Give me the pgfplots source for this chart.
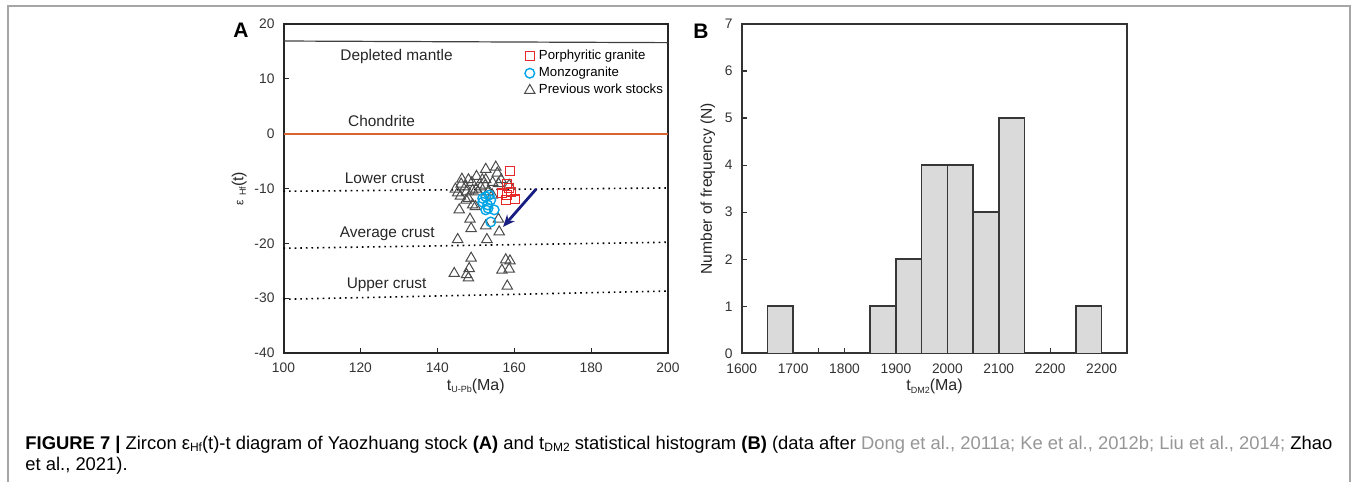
\documentclass[border=0pt]{standalone}
\usepackage{fontspec}
\setmainfont{Liberation Sans}
\usepackage{pgfplots}
\pgfplotsset{compat=1.18}
\usetikzlibrary{arrows.meta}
\definecolor{tri}{RGB}{75,75,75}
\definecolor{sqred}{RGB}{230,40,40}
\definecolor{circ}{RGB}{0,165,230}
\definecolor{chond}{RGB}{215,100,50}
\definecolor{navyarrow}{RGB}{25,30,130}
\definecolor{barfill}{RGB}{218,218,218}
\definecolor{bardraw}{RGB}{55,55,55}
\definecolor{capgray}{RGB}{150,150,150}
\begin{document}
\begin{tikzpicture}
\useasboundingbox (0,0) rectangle (678pt,-241pt);
\draw[gray!70, line width=0.9pt] (4pt,-245pt) -- (4pt,-3pt) -- (675pt,-3pt) -- (675pt,-245pt);
\node[font=\bfseries\fontsize{10.5}{12}\selectfont] at (120.5pt,-15pt) {A};
\node[font=\bfseries\fontsize{10.5}{12}\selectfont] at (350.5pt,-15.5pt) {B};

\begin{axis}[
 scale only axis, width=192.25pt, height=164.5pt,
 at={(141.75pt,-176.5pt)}, anchor=south west,
 xmin=100, xmax=200, ymin=-40, ymax=20,
 xtick={100,120,...,200}, xticklabels={100,120,140,160,180,200},
 ytick={-40,-30,...,20}, yticklabels={-40,-30,-20,-10,0,10,20},
 tick align=inside, tick pos=left, major tick length=2.5pt,
 axis line style={line width=1pt, black!85},
 tick style={line width=0.6pt, black!85},
 ticklabel style={font=\fontsize{6.9}{8}\selectfont, text=black!80},
 xticklabel style={yshift=-1.5pt}, yticklabel style={xshift=-1pt},
 xlabel={t\raisebox{-0.3ex}{\fontsize{4.5}{5}\selectfont U-Pb}(Ma)},
 xlabel style={font=\fontsize{8}{9}\selectfont, text=black!85, yshift=4pt},
 ylabel={{\fontsize{6}{7}\selectfont ε}\raisebox{-0.3ex}{\fontsize{4.5}{5}\selectfont\, Hf}(t)},
 ylabel style={font=\fontsize{8}{9}\selectfont, text=black!85, at={(axis description cs:-0.115,0.5)}, anchor=center},
 clip=false,
 legend style={at={(axis cs:162.6,16.1)}, anchor=north west, draw=none, fill=none,
   font=\fontsize{6.6}{7.5}\selectfont, row sep=-1.7pt, cells={anchor=west}, inner sep=0pt},
 legend image code/.code={\draw[mark repeat=2,mark phase=2,#1] plot coordinates {(0cm,0cm)(0.1cm,0cm)(0.2cm,0cm)};},
]
\addlegendimage{only marks, mark=square, mark size=2.2pt, draw=sqred, line width=0.6pt}
\addlegendentry{Porphyritic granite}
\addlegendimage{only marks, mark=o, mark size=2.4pt, draw=circ, line width=0.7pt}
\addlegendentry{Monzogranite}
\addlegendimage{only marks, mark=triangle, mark size=3pt, draw=tri, line width=0.5pt}
\addlegendentry{Previous work stocks}

\addplot[forget plot, draw=black!75, line width=0.6pt] coordinates {(100,16.9) (200,16.6)};
\addplot[forget plot, draw=chond, line width=0.9pt] coordinates {(100,0) (200,0)};
\addplot[forget plot, draw=black, line width=0.8pt, dash pattern=on 0.8pt off 2pt] coordinates {(100,-10.5) (200,-9.9)};
\addplot[forget plot, draw=black, line width=0.8pt, dash pattern=on 0.8pt off 2pt] coordinates {(100,-20.9) (200,-19.8)};
\addplot[forget plot, draw=black, line width=0.8pt, dash pattern=on 0.8pt off 2pt] coordinates {(100,-30.2) (200,-28.7)};

\node[font=\fontsize{7.7}{9}\selectfont, text=black!85] at (axis cs:129.4,14.0) {Depleted mantle};
\node[font=\fontsize{7.7}{9}\selectfont, text=black!85] at (axis cs:125.5,2.3) {Chondrite};
\node[font=\fontsize{7.7}{9}\selectfont, text=black!85] at (axis cs:126.3,-8.1) {Lower crust};
\node[font=\fontsize{7.7}{9}\selectfont, text=black!85] at (axis cs:127.0,-18.2) {Average crust};
\node[font=\fontsize{7.7}{9}\selectfont, text=black!85] at (axis cs:126.8,-27.6) {Upper crust};

\addplot[forget plot, only marks, mark=triangle, mark size=3pt, draw=tri, line width=0.5pt] coordinates {
(152.6,-6.5) (155.2,-6.1) (155.6,-7.2) (146.4,-8.3) (148.1,-8.4) (149.0,-8.9)
(150.2,-7.8) (152.6,-8.4) (154.4,-8.9) (155.9,-9.1) (152.5,-9.4) (144.7,-10.1)
(145.3,-10.8) (147.6,-10.6) (149.2,-10.3) (150.1,-10.1) (151.3,-9.7) (148.1,-11.8)
(147.5,-12.1) (145.7,-13.9) (149.2,-13.0) (149.9,-13.3) (148.5,-15.6) (148.8,-17.3)
(152.6,-16.8) (155.9,-15.6) (156.1,-17.9) (145.3,-19.3) (152.9,-19.3) (158.7,-9.4)
(150.6,-10.6) (151.7,-8.4) (146.2,-9.2) (146.0,-11.4) (153.2,-10.6) (154.3,-11.2)
(156.6,-8.4) (147.3,-9.7) (148.8,-22.7) (144.4,-25.5) (148.3,-24.6) (147.6,-25.7)
(148.1,-26.3) (157.8,-23.0) (158.9,-23.2) (156.8,-24.9) (158.7,-24.7) (158.2,-27.8)
};
\addplot[forget plot, only marks, mark=o, mark size=2.4pt, draw=circ, line width=0.7pt] coordinates {
(151.8,-11.8) (152.6,-11.5) (153.5,-11.2) (153.9,-12.1) (153.1,-13.0)
(152.6,-13.9) (154.8,-13.9) (153.9,-16.1) (151.8,-12.5) (153.2,-13.6)
};
\addplot[forget plot, only marks, mark=square, mark size=2.2pt, draw=sqred, line width=0.6pt] coordinates {
(158.9,-6.8) (158.1,-9.2) (156.8,-10.9) (158.1,-11.2) (158.7,-9.9) (160.2,-12.0) (157.8,-12.1) (159.2,-10.6)
};
\draw[-{Stealth[length=6pt,width=5pt]}, navyarrow, line width=1.4pt] (axis cs:165.7,-10.1) -- (axis cs:157.1,-17.0);
\end{axis}

\begin{axis}[
 scale only axis, width=192.8pt, height=164.65pt,
 at={(370.85pt,-176.65pt)}, anchor=south west,
 xmin=1600, xmax=2350, ymin=0, ymax=7,
 xtick={1600,1700,...,2300}, xticklabels={1600,1700,1800,1900,2000,2100,2200,2200},
 minor xtick={1650,1750,...,2250},
 ytick={0,1,...,7}, yticklabels={0,1,2,3,4,5,6,7},
 tick align=inside, tick pos=left, major tick length=2.5pt, minor tick length=2.5pt,
 axis line style={line width=1pt, black!80},
 tick style={line width=0.6pt, black!80},
 ticklabel style={font=\fontsize{6.9}{8}\selectfont, text=black!80},
 xticklabel style={yshift=-1.5pt}, yticklabel style={xshift=-1pt},
 xlabel={t\raisebox{-0.3ex}{\fontsize{4.5}{5}\selectfont DM2}(Ma)},
 xlabel style={font=\fontsize{8}{9}\selectfont, text=black!85, yshift=4pt},
 ylabel={Number of frequency (N)},
 ylabel style={font=\fontsize{7.8}{9}\selectfont, text=black!85, at={(axis description cs:-0.088,0.5)}, anchor=center},
]
\addplot[ybar, bar width=50, bar shift=0pt, fill=barfill, draw=bardraw, line width=0.8pt] coordinates {
(1675,1) (1875,1) (1925,2) (1975,4) (2025,4) (2075,3) (2125,5) (2275,1)
};
\end{axis}

\node[anchor=base west, inner sep=0pt, font=\fontsize{9.2}{11}\selectfont] at (12.5pt,-224.5pt)
 {\textbf{FIGURE 7 |} Zircon ε\raisebox{-0.3ex}{\fontsize{6}{7}\selectfont Hf}(t)-t diagram of Yaozhuang stock \textbf{(A)} and t\raisebox{-0.3ex}{\fontsize{6}{7}\selectfont DM2} statistical histogram \textbf{(B)} (data after \textcolor{capgray}{Dong et al., 2011a; Ke et al., 2012b; Liu et al., 2014;} Zhao};
\node[anchor=base west, inner sep=0pt, font=\fontsize{9.2}{11}\selectfont] at (12.5pt,-235pt)
 {et al., 2021).};
\end{tikzpicture}
\end{document}
